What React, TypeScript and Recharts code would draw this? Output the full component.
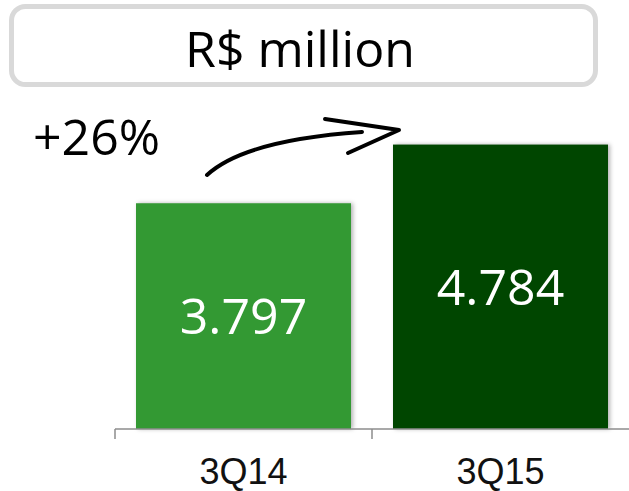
import { BarChart, Bar, XAxis, YAxis, Cell, LabelList, Customized } from 'recharts';

const quarters = ['3Q14', '3Q15'];
const revenue = [3797, 4784];
const barColors = ['#339933', '#004600'];
const unitTitle = 'R$ million';

const data = quarters.map((q, i) => ({ quarter: q, value: revenue[i] }));

// 3797 -> "3.797" (pt-BR thousands separator)
const fmt = (v: number) => String(v).replace(/\B(?=(\d{3})+(?!\d))/g, '.');

const growth = Math.round((revenue[1] / revenue[0] - 1) * 100);

const labelFont = '"Open Sans", "Noto Sans", sans-serif';
const axisGrey = '#8c8c8c';

// label in the middle of the band, tick mark on the band's left edge
function QuarterTick({ x, y, payload }: { x?: number; y?: number; payload?: { value: string; offset?: number } }) {
  const half = payload?.offset || 128.5;
  const left = (x ?? 0) - half;
  return (
    <g>
      <line x1={left} x2={left} y1={y} y2={(y ?? 0) + 10} stroke={axisGrey} strokeWidth={1.5} />
      <text
        x={x}
        y={y}
        dy={55}
        textAnchor="middle"
        fontFamily='"Liberation Sans", Arial, sans-serif'
        fontSize={36}
        fill="#111"
      >
        {payload?.value}
      </text>
    </g>
  );
}

function ShadowBar(props: any) {
  const { x, y, width, height, fill } = props;
  return (
    <rect
      x={x}
      y={y}
      width={width}
      height={height}
      fill={fill}
      style={{ filter: 'drop-shadow(2px 0px 2px rgba(0,0,0,0.3))' }}
    />
  );
}

function Annotations() {
  return (
    <g>
      <rect x={11.5} y={6.5} width={584} height={78} rx={14} ry={14} fill="#fff" stroke="#d9d9d9" strokeWidth={5} />
      <text x={300} y={67} textAnchor="middle" fontFamily={labelFont} fontSize={50} fill="#000">
        {unitTitle}
      </text>
      <text x={33} y={155} fontFamily={labelFont} fontSize={50} fill="#000">
        {`+${growth}%`}
      </text>
      <path d="M207 175 Q245 140 362 132" fill="none" stroke="#000" strokeWidth={4} strokeLinecap="round" />
      <path d="M325 119 L399 130 L348 153" fill="none" stroke="#000" strokeWidth={4} strokeLinecap="round" strokeLinejoin="round" />
    </g>
  );
}

export default function App() {
  return (
    <div style={{ position: 'absolute', left: 0, top: 0, width: 629, height: 491, background: '#fff' }}>
      <BarChart
        width={629}
        height={491}
        data={data}
        margin={{ top: 102, right: 0, bottom: 0, left: 115 }}
        barCategoryGap={21}
      >
        <XAxis
          dataKey="quarter"
          axisLine={{ stroke: axisGrey, strokeWidth: 1.5 }}
          tickLine={false}
          tickSize={0}
          tickMargin={0}
          height={62}
          tick={<QuarterTick />}
        />
        <YAxis hide domain={[0, 5500]} />
        <Bar dataKey="value" isAnimationActive={false} shape={<ShadowBar />}>
          {data.map((d, i) => (
            <Cell key={d.quarter} fill={barColors[i]} />
          ))}
          <LabelList
            dataKey="value"
            position="center"
            formatter={(v: any) => fmt(Number(v))}
            fill="#fff"
            fontSize={50}
            fontFamily={labelFont}
          />
        </Bar>
        <Customized component={Annotations} />
      </BarChart>
    </div>
  );
}
